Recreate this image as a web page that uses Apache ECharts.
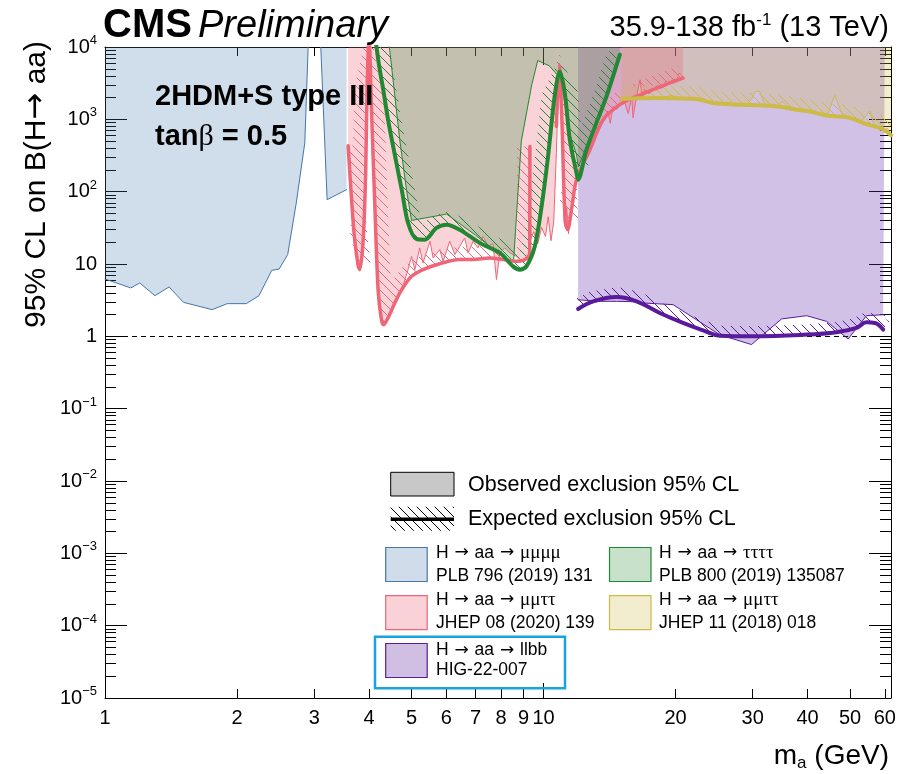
<!DOCTYPE html>
<html>
<head>
<meta charset="utf-8">
<script src="https://cdn.jsdelivr.net/npm/echarts@6/dist/echarts.min.js"></script>
<style>
  html, body { margin: 0; padding: 0; background: #fff; }
  #chart { width: 907px; height: 774px; }
</style>
</head>
<body>
<div id="chart"></div>
<script>
const FONT = "'Liberation Sans', Arial, Helvetica, sans-serif";
const ARROW_FONT = "'DejaVu Sans', sans-serif";
const GREEK_FONT = "'Liberation Serif', 'DejaVu Serif', serif";

// Axis tick positions
const xTickValues = [1, 2, 3, 4, 5, 6, 7, 8, 9, 10, 20, 30, 40, 50, 60];
const xLongTickValues = [10];
const yTickValues = [1e-5, 1e-4, 1e-3, 1e-2, 1e-1, 1, 10, 100, 1000, 10000];

// H -> aa -> mumumumu, PLB 796 (2019) 131 : observed limit
const mu4Obs = [
  [1.0, 6.2], [1.145, 4.67], [1.20, 5.47], [1.30, 3.65], [1.40, 4.82], [1.51, 2.95],
  [1.755, 2.34], [1.90, 2.83], [2.10, 2.83], [2.245, 3.65], [2.40, 8.17], [2.495, 8.5],
  [2.61, 13.5], [2.73, 69.8], [2.855, 471], [2.906, 10000], [3.0, '-'],
  [3.105, 10000], [3.21, 77.5], [3.555, 106.6]
];

// H -> aa -> mumutautau, JHEP 08 (2020) 139
const mm2tObs = [
  [3.585, 432], [3.65, 77.5], [3.71, 21.7], [3.78, 9.3], [3.81, 8.35], [3.88, 21.7],
  [3.93, 181], [3.96, 2570], [4.0, 14000], [4.05, 1510], [4.125, 62.6], [4.195, 4.42],
  [4.27, 1.7], [4.32, 1.45], [4.42, 1.8], [4.58, 2.89], [4.75, 4.42], [4.91, 8.35],
  [5.0, 12.7], [5.09, 8.35], [5.22, 16.7], [5.31, 10.3], [5.51, 20.6], [5.60, 12.1],
  [5.80, 15.8], [5.90, 10.9], [6.11, 20.6], [6.28, 13.5], [6.44, 17.5], [6.61, 22.9],
  [6.73, 14.2], [6.91, 20.6], [7.09, 16.7], [7.28, 24.1], [7.48, 17.5], [7.67, 19.1],
  [7.81, 6.1], [7.95, 14.2], [8.16, 16.7], [8.38, 14.2], [8.68, 12.7], [8.96, 10.9],
  [9.14, 11.5], [9.27, 12], [9.31, 420], [9.35, 22], [9.5, 28], [9.7, 19], [9.9, 32],
  [10.1, 24], [10.25, 45], [10.4, 21], [10.55, 38], [10.7, 350], [10.85, 6000],
  [10.98, 2500], [11.1, 90], [11.2, 33], [11.3, 60], [11.4, 26], [11.5, 45], [11.7, 100],
  [11.9, 150], [12.2, 210], [12.5, 310], [12.8, 420], [13.1, 560], [13.4, 780],
  [13.7, 1000], [14.0, 1300], [14.2, 880], [14.4, 1500], [14.7, 1380], [14.93, 1650],
  [15.3, 1750], [15.6, 1200], [15.9, 2000], [16.0, 1045], [16.3, 2100], [16.6, 3530],
  [16.8, 1900], [17.0, 2600], [17.4, 2250], [17.8, 2650], [18.2, 2950], [18.6, 2700],
  [19.0, 3350], [19.4, 3150], [19.8, 3600], [20.1, 3400], [20.4, 4370], [20.8, 3750]
];
const mm2tExp = [
  [3.585, 432], [3.65, 77.5], [3.71, 21.7], [3.78, 9.3], [3.81, 8.35], [3.88, 21.7],
  [3.93, 181], [3.96, 2570], [4.0, 14000], [4.05, 1510], [4.125, 62.6], [4.195, 4.42],
  [4.27, 1.7], [4.32, 1.45], [4.42, 1.8], [4.58, 2.89], [4.75, 4.42], [5.0, 6.75],
  [5.31, 8.35], [5.80, 10.1], [6.44, 11.5], [6.91, 11.5], [7.54, 12.1], [8.09, 11.5],
  [8.68, 10.9], [9.0, 11.2], [9.2, 12.5], [9.3, 14], [9.31, 420], [9.4, '-'],
  [10.7, 800], [10.87, 5500], [11.0, 1200], [11.2, 40], [11.35, 30], [11.6, 60],
  [11.89, 146], [12.76, 380], [13.68, 989], [14.93, 1594], [16.3, 2077], [17.78, 2570],
  [19.41, 3180], [20.8, 3727]
];

// H -> aa -> tautautautau, PLB 800 (2019) 135087
const t4Obs = [
  [4.40, 14000], [4.46, 9000], [4.70, 523], [4.87, 106], [5.0, 40], [6.01, 49],
  [7.0, 25], [7.8, 15], [8.3, 11], [8.55, 11.5], [8.7, 60], [8.9, 500], [9.4, 3000],
  [9.7, 6500], [10.3, 5500], [10.8, 4000], [11.0, 3200], [11.2, 1600], [11.5, 600],
  [11.9, 320], [12.0, 220], [12.5, 400], [13.2, 900], [13.9, 2100],
  [14.5, 4500], [14.93, 8000]
];
const t4Exp = [
  [4.13, 14000], [4.22, 5395], [4.31, 2570], [4.42, 989], [4.54, 423], [4.75, 106],
  [4.91, 36.9], [5.13, 22.2], [5.36, 21.7], [5.70, 31.5], [6.01, 35], [6.44, 29.8],
  [7.16, 19.5], [7.95, 14.2], [8.52, 9.28], [8.83, 8.35], [9.14, 9.28], [9.55, 17.5],
  [9.90, 62.6], [10.24, 307], [10.6, 2077], [10.89, 4600], [11.18, 2310], [11.48, 523],
  [11.89, 181], [11.99, 146], [12.53, 380], [13.2, 890], [13.92, 2077], [14.93, 7830]
];

// H -> aa -> mumutautau, JHEP 11 (2018) 018
const mm2t18Obs = [
  [15.06, 1850], [15.6, 2050], [16.2, 1900], [16.8, 2100], [17.4, 1950], [18.0, 2050],
  [18.8, 2000], [19.6, 2150], [20.5, 1950], [21.3, 2000], [22.3, 1900], [23.2, 1800],
  [24.0, 1650], [24.8, 1750], [25.6, 1600], [26.4, 1700], [27.3, 1580], [28.2, 1650],
  [29.0, 1560], [29.8, 1900], [30.4, 2400], [31.1, 2450], [31.8, 1700], [32.6, 1500],
  [33.5, 1600], [34.3, 1450], [35.0, 1780], [35.6, 1600], [36.5, 1350], [37.5, 1420],
  [38.5, 1300], [39.5, 1350], [40.5, 1250], [41.5, 1200], [42.5, 1150], [43.5, 1120],
  [44.5, 1200], [45.5, 1700], [46.2, 2150], [47.0, 1600], [47.8, 1250], [48.6, 1080],
  [49.5, 1050], [50.5, 1000], [51.5, 950], [52.5, 920], [53.5, 1000], [54.5, 1150],
  [55.5, 1300], [56.5, 900], [57.5, 800], [58.5, 700], [59.3, 820], [60.0, 650],
  [60.8, 760], [62.0, 600]
];
const mm2t18Exp = [
  [15.06, 1910], [16.5, 1950], [17.78, 1973], [20.0, 1950], [22.33, 1910], [24.36, 1683],
  [26.5, 1620], [28.5, 1590], [30.5, 1570], [32.8, 1545], [35.0, 1480], [37.76, 1359],
  [40.5, 1280], [43.4, 1159], [46.0, 1100], [49.1, 1077], [51.5, 980], [53.6, 890],
  [56.0, 820], [58.5, 760], [60.5, 680], [62.0, 600]
];

// H -> aa -> llbb, HIG-22-007
const llbbObs = [
  [11.99, 3.2], [13.5, 3.05], [14.68, 3.05], [16.3, 3.0], [16.87, 2.89], [19.75, 2.74],
  [25.23, 1.05], [29.8, 0.77], [34.9, 1.74], [39.8, 1.93], [44.2, 1.61], [49.5, 0.92],
  [54.5, 1.93], [59.5, 1.99], [60.0, 1.95]
];
const llbbExp = [
  [11.99, 2.39], [12.98, 3.05], [14.68, 3.5], [16.3, 3.05], [18.42, 2.1], [20.8, 1.53],
  [23.12, 1.21], [25.23, 1.02], [30.06, 1.0], [39.09, 1.05], [46.57, 1.14], [51.75, 1.31],
  [54.5, 1.56], [56.96, 1.53], [59.5, 1.24]
];

// ---------- styling helpers ----------
function hatchCanvas(color, step, lw) {
  const c = document.createElement('canvas');
  c.width = step; c.height = step;
  const g = c.getContext('2d');
  g.strokeStyle = color; g.lineWidth = lw;
  g.beginPath();
  for (let k = -1; k <= 1; k++) {
    g.moveTo(k * step, 0);
    g.lineTo(k * step + step, step);
  }
  g.stroke();
  return c;
}

// split a series array at '-' gaps into continuous segments
function segments(arr) {
  const out = []; let cur = [];
  arr.forEach(p => {
    if (p[1] === '-') { if (cur.length) out.push(cur); cur = []; }
    else cur.push(p);
  });
  if (cur.length) out.push(cur);
  return out;
}

// polygon of a band of width w on the upper (excluded) side of a screen-space path
function bandPolygon(pix, w) {
  const n = pix.length;
  const nor = [];
  for (let i = 0; i < n - 1; i++) {
    const dx = pix[i + 1][0] - pix[i][0], dy = pix[i + 1][1] - pix[i][1];
    const L = Math.hypot(dx, dy) || 1;
    nor.push([dy / L, -dx / L]);
  }
  const off = [];
  for (let i = 0; i < n; i++) {
    const a = nor[Math.max(0, i - 1)], b = nor[Math.min(n - 2, i)];
    let nx = a[0] + b[0], ny = a[1] + b[1];
    const L = Math.hypot(nx, ny) || 1;
    off.push([pix[i][0] + nx / L * w, pix[i][1] + ny / L * w]);
  }
  return pix.concat(off.reverse());
}

function hatchSeries(arr, color, width) {
  const pattern = { image: hatchCanvas(color, 9, 1), repeat: 'repeat' };
  const segs = segments(arr);
  return {
    type: 'custom', silent: true, z: 3, xAxisIndex: 0, yAxisIndex: 0,
    data: [arr[0]],
    renderItem: function (params, api) {
      const cs = params.coordSys;
      const children = segs.map(seg => ({
        type: 'polygon',
        shape: { points: bandPolygon(seg.map(p => api.coord(p)), width) },
        style: { fill: pattern, stroke: null }
      }));
      return {
        type: 'group',
        clipPath: { type: 'rect', shape: { x: cs.x, y: cs.y, width: cs.width, height: cs.height } },
        children: children
      };
    }
  };
}

function fillSeries(arr, rgba, z) {
  return {
    type: 'line', data: arr, symbol: 'none', silent: true, z: z || 1,
    lineStyle: { width: 0, opacity: 0 },
    areaStyle: { origin: 'end', color: rgba, opacity: 1 },
    connectNulls: false
  };
}

function lineSeries(arr, color, width, smooth, z) {
  return {
    type: 'line', data: arr, symbol: 'none', silent: true, z: z || 4,
    lineStyle: { width: width, color: color, cap: 'round', join: 'round' },
    smooth: smooth || false, connectNulls: false
  };
}

const C_BLUE = '#4477AA', C_PINK = '#EE6677', C_GREEN = '#228833',
      C_YELLOW = '#CCBB44', C_PURPLE = '#5a1a9c';

// ---------- axes ----------
function supLabel(v) {
  const e = Math.round(Math.log10(v));
  if (e === 0) return '1';
  if (e === 1) return '10';
  return '10{sup|' + (e < 0 ? '\u2212' + (-e) : e) + '}';
}

const yMinorValues = [];
yTickValues.slice(0, -1).forEach(d => { for (let k = 2; k <= 9; k++) yMinorValues.push(k * d); });

const baseY = {
  type: 'log', logBase: 10, min: 1e-5, max: 1e4,
  splitLine: { show: false }, minorSplitLine: { show: false }
};
const baseX = {
  type: 'log', logBase: 10, min: 1, max: 62,
  splitLine: { show: false }, minorSplitLine: { show: false }
};

const xAxes = [
  Object.assign({}, baseX, {
    position: 'bottom',
    axisLine: { show: true, lineStyle: { color: '#000', width: 1 } },
    axisTick: { show: true, inside: true, length: 9, customValues: xTickValues, lineStyle: { color: '#000' } },
    axisLabel: { show: true, customValues: xTickValues, margin: 10, color: '#000', fontFamily: FONT, fontSize: 20 }
  }),
  Object.assign({}, baseX, {
    position: 'top',
    axisLine: { show: true, lineStyle: { color: '#000', width: 1 } },
    axisTick: { show: true, inside: true, length: 9, customValues: xTickValues, lineStyle: { color: '#000' } },
    axisLabel: { show: false }
  }),
  Object.assign({}, baseX, {
    position: 'bottom', axisLine: { show: false },
    axisTick: { show: true, inside: true, length: 15, customValues: xLongTickValues, lineStyle: { color: '#000' } },
    axisLabel: { show: false }
  }),
  Object.assign({}, baseX, {
    position: 'top', axisLine: { show: false },
    axisTick: { show: true, inside: true, length: 18, customValues: xLongTickValues, lineStyle: { color: '#000' } },
    axisLabel: { show: false }
  })
];

const yAxes = [
  Object.assign({}, baseY, {
    position: 'left',
    axisLine: { show: true, lineStyle: { color: '#000', width: 1 } },
    axisTick: { show: true, inside: true, length: 22, customValues: yTickValues, lineStyle: { color: '#000' } },
    axisLabel: {
      show: true, customValues: yTickValues, margin: 8, color: '#000',
      fontFamily: FONT, fontSize: 20, formatter: supLabel,
      rich: { sup: { fontSize: 13, fontFamily: FONT, padding: [0, 0, 13, 0], color: '#000' } }
    }
  }),
  Object.assign({}, baseY, {
    position: 'left', axisLine: { show: false },
    axisTick: { show: true, inside: true, length: 11, customValues: yMinorValues, lineStyle: { color: '#000' } },
    axisLabel: { show: false }
  }),
  Object.assign({}, baseY, {
    position: 'right',
    axisLine: { show: true, lineStyle: { color: '#000', width: 1 } },
    axisTick: { show: true, inside: true, length: 22, customValues: yTickValues, lineStyle: { color: '#000' } },
    axisLabel: { show: false }
  }),
  Object.assign({}, baseY, {
    position: 'right', axisLine: { show: false },
    axisTick: { show: true, inside: true, length: 11, customValues: yMinorValues, lineStyle: { color: '#000' } },
    axisLabel: { show: false }
  })
];

// ---------- series ----------
const series = [
  fillSeries(llbbObs, 'rgba(106,51,176,0.30)', 1),
  fillSeries(mm2t18Obs, 'rgba(204,187,68,0.26)', 1),
  fillSeries(mm2tObs, 'rgba(238,102,119,0.29)', 1),
  fillSeries(t4Obs, 'rgba(34,136,51,0.25)', 1),
  fillSeries(mu4Obs, 'rgba(68,119,170,0.25)', 1),

  hatchSeries(mm2tExp, C_PINK, 13),
  hatchSeries(t4Exp, C_GREEN, 13),
  hatchSeries(mm2t18Exp, C_YELLOW, 12),
  hatchSeries(llbbExp, C_PURPLE, 10),

  lineSeries(mu4Obs, C_BLUE, 1, false, 5),
  lineSeries(mm2tObs, C_PINK, 1, false, 5),
  lineSeries(t4Obs, C_GREEN, 1, false, 5),
  lineSeries(mm2t18Obs, C_YELLOW, 1, false, 5),
  lineSeries(llbbObs, C_PURPLE, 1, false, 5),

  lineSeries(mm2tExp, C_PINK, 3.5, 0.3, 6),
  lineSeries(t4Exp, C_GREEN, 4, 0.3, 6),
  lineSeries(mm2t18Exp, C_YELLOW, 4, 0.3, 6),
  Object.assign(lineSeries(llbbExp, C_PURPLE, 4, 0.4, 6), {
    markLine: {
      silent: true, symbol: 'none', animation: false,
      label: { show: false },
      lineStyle: { color: '#000', width: 1, type: [5, 4] },
      data: [{ yAxis: 1 }]
    }
  })
];

// ---------- annotations and legend ----------
const legendHatch = { image: hatchCanvas('#000', 9, 1), repeat: 'repeat' };
const entryRich = {
  ar: { fontFamily: ARROW_FONT, fontSize: 17, padding: [0, 1, 0, 1] },
  gr: { fontFamily: GREEK_FONT, fontSize: 19 }
};
function swatch(x, y, fill, stroke) {
  return { type: 'rect', shape: { x: x, y: y, width: 41.5, height: 34 },
           style: { fill: fill, stroke: stroke, lineWidth: 1.2 }, z: 100 };
}
function txt(x, y, text, size, extra) {
  return { type: 'text', x: x, y: y, z: 100,
           style: Object.assign({ text: text, fill: '#000', font: size + 'px ' + FONT,
                                  textVerticalAlign: 'middle', rich: entryRich }, extra || {}) };
}
function decay(final) {
  return 'H {ar|\u2192} aa {ar|\u2192} ' + final;
}

const graphics = [
  txt(103, 26, 'CMS', 40, { font: 'bold 40px ' + FONT }),
  txt(198, 26, 'Preliminary', 38, { font: 'italic 38px ' + FONT }),
  {
    type: 'text', right: 18, top: 12, z: 100,
    style: {
      text: '35.9-138 fb{s|-1} (13 TeV)', fill: '#000', font: '29px ' + FONT,
      rich: { s: { fontSize: 17, fontFamily: FONT, padding: [0, 0, 15, 0] } }
    }
  },
  txt(155, 97, '2HDM+S type III', 29, { font: 'bold 29px ' + FONT }),
  {
    type: 'text', x: 155, y: 137, z: 100,
    style: {
      text: 'tan{b|\u03b2} = 0.5', fill: '#000', font: 'bold 29px ' + FONT, textVerticalAlign: 'middle',
      rich: { b: { fontSize: 30, fontFamily: GREEK_FONT, fontWeight: 'normal' } }
    }
  },
  {
    type: 'text', x: 37, y: 41, rotation: Math.PI / 2, z: 100,
    style: {
      text: '95% CL on B(H{ar|\u2192} aa)', fill: '#000', font: '30px ' + FONT,
      textAlign: 'right', textVerticalAlign: 'middle',
      rich: { ar: { fontFamily: ARROW_FONT, fontSize: 32 } }
    }
  },
  {
    type: 'text', x: 889, y: 756, z: 100,
    style: {
      text: 'm{s|a} (GeV)', fill: '#000', font: '28px ' + FONT, textAlign: 'right', textVerticalAlign: 'middle',
      rich: { s: { fontSize: 17, fontFamily: FONT, padding: [15, 0, 0, 0] } }
    }
  },

  // legend
  { type: 'rect', shape: { x: 390.7, y: 472.3, width: 63.3, height: 23.7 },
    style: { fill: '#c8c8c8', stroke: '#000', lineWidth: 1 }, z: 100 },
  txt(468, 485, 'Observed exclusion 95% CL', 21.5),
  { type: 'rect', shape: { x: 390.7, y: 506.7, width: 63.3, height: 24 },
    style: { fill: legendHatch, stroke: null }, z: 100 },
  { type: 'line', shape: { x1: 390.7, y1: 519.3, x2: 454, y2: 519.3 },
    style: { stroke: '#000', lineWidth: 3.5 }, z: 101 },
  txt(468, 519.3, 'Expected exclusion 95% CL', 21.5),

  swatch(385.7, 547.5, '#d0dcea', C_BLUE),
  txt(436, 553, decay('{gr|\u03bc\u03bc\u03bc\u03bc}'), 17.5),
  txt(436, 576, 'PLB 796 (2019) 131', 17.5),
  swatch(609.5, 547.5, '#c8e1cb', C_GREEN),
  txt(659, 553, decay('{gr|\u03c4\u03c4\u03c4\u03c4}'), 17.5),
  txt(659, 576, 'PLB 800 (2019) 135087', 17.5),
  swatch(385.7, 595.7, '#f9d2d7', C_PINK),
  txt(436, 600, decay('{gr|\u03bc\u03bc\u03c4\u03c4}'), 17.5),
  txt(436, 623.5, 'JHEP 08 (2020) 139', 17.5),
  swatch(609.5, 595.7, '#f2edce', C_YELLOW),
  txt(659, 600, decay('{gr|\u03bc\u03bc\u03c4\u03c4}'), 17.5),
  txt(659, 623.5, 'JHEP 11 (2018) 018', 17.5),
  swatch(385.7, 643.5, '#d1bfe3', C_PURPLE),
  txt(436, 650.5, decay('llbb'), 17.5),
  txt(436, 670.5, 'HIG-22-007', 17.5),
  { type: 'rect', shape: { x: 375, y: 636.7, width: 190, height: 51.6 },
    style: { fill: null, stroke: '#1ba3dd', lineWidth: 2.5 }, z: 100 }
];

const chart = echarts.init(document.getElementById('chart'), null, { renderer: 'canvas' });
chart.setOption({
  animation: false,
  backgroundColor: '#fff',
  grid: { left: 105, right: 16, top: 47, bottom: 76, containLabel: false },
  xAxis: xAxes,
  yAxis: yAxes,
  series: series,
  graphic: graphics
});
</script>
</body>
</html>
